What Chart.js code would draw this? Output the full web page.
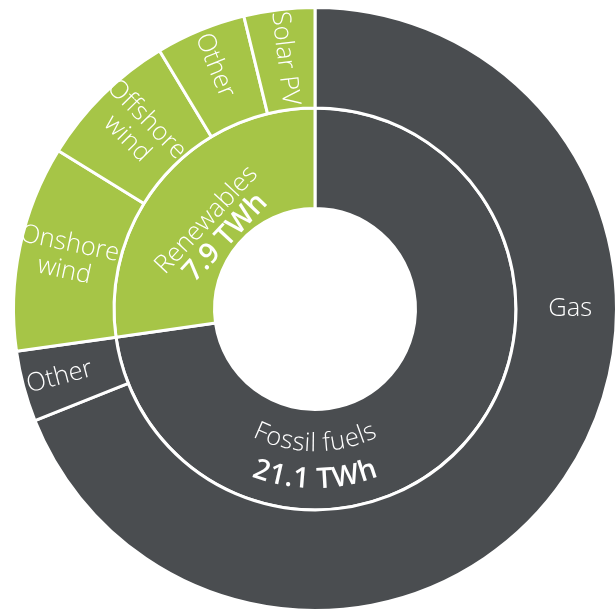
<!DOCTYPE html>
<html>
<head>
<meta charset="utf-8">
<script src="https://cdn.jsdelivr.net/npm/chart.js@4/dist/chart.umd.min.js"></script>
<style>
html,body{margin:0;padding:0;background:#fff;overflow:hidden}
#wrap{width:616px;height:610px;position:relative}
canvas{display:block}
</style>
</head>
<body>
<div id="wrap"><canvas id="c" width="616" height="610"></canvas></div>
<script>
// ---- data ----
const groupLabels = ['Fossil fuels', 'Renewables'];
const groupValues = [21.1, 7.9];
const valueUnit = 'TWh';
const sourceLabels = ['Gas', 'Other', 'Onshore wind', 'Offshore wind', 'Other', 'Solar PV'];
const sourceValues = [20.0, 1.1, 3.2, 2.2, 1.4, 1.1];
const sourceGroup = [0, 0, 1, 1, 1, 1];

// ---- styles ----
const groupColors = ['#4a4d50', '#a6c547'];
const FONT_FAMILY = '"Open Sans", "DejaVu Sans", sans-serif';
const LIGHT_FONT = '300 25.5px ' + FONT_FAMILY;
const BOLD_FONT = '600 28.5px ' + FONT_FAMILY;

// label layout (frac = position across the ring width, angle in deg clockwise from top)
const sourceLabelLayout = [
  {angle: 90, frac: 0.54, mode: 'flat'},
  {frac: 0.63, mode: 'radial'},
  {frac: 0.52, mode: 'radial', wrap: true},
  {frac: 0.52, mode: 'radial', wrap: true},
  {frac: 0.62, mode: 'radial'},
  {frac: 0.51, mode: 'radial'}
];
const groupLabelLayout = [
  {angle: 180, fracs: [0.343, 0.70], mode: 'curved'},
  {angle: 309, frac: 0.268, mode: 'straight', rotate: -47, gap: 26}
];

function degToCanvas(d) { return (d - 90) * Math.PI / 180; }

function drawLines(ctx, lines, fonts, x, y, rot, gap) {
  ctx.save();
  ctx.translate(x, y);
  ctx.rotate(rot);
  const n = lines.length;
  lines.forEach((ln, i) => {
    ctx.font = fonts[i] || fonts[0];
    ctx.fillText(ln, 0, (i - (n - 1) / 2) * gap);
  });
  ctx.restore();
}

function drawCurved(ctx, text, font, cx, cy, r, centerAngle) {
  ctx.font = font;
  const total = ctx.measureText(text).width;
  let a = centerAngle + total / (2 * r);
  for (const ch of text) {
    const w = ctx.measureText(ch).width;
    const am = a - w / (2 * r);
    ctx.save();
    ctx.translate(cx + r * Math.cos(am), cy + r * Math.sin(am));
    ctx.rotate(am - Math.PI / 2);
    ctx.fillText(ch, 0, 0);
    ctx.restore();
    a -= w / r;
  }
}

const ringLabels = {
  id: 'ringLabels',
  afterDatasetsDraw(chart) {
    const ctx = chart.ctx;
    ctx.save();
    ctx.fillStyle = '#ffffff';
    ctx.textAlign = 'center';
    ctx.textBaseline = 'middle';

    // outer ring: sources
    chart.getDatasetMeta(0).data.forEach((arc, i) => {
      const p = arc.getProps(['x', 'y', 'startAngle', 'endAngle', 'innerRadius', 'outerRadius'], true);
      const L = sourceLabelLayout[i];
      const ang = L.angle !== undefined ? degToCanvas(L.angle) : (p.startAngle + p.endAngle) / 2;
      const r = p.innerRadius + L.frac * (p.outerRadius - p.innerRadius);
      const x = p.x + r * Math.cos(ang), y = p.y + r * Math.sin(ang);
      const lines = L.wrap ? sourceLabels[i].split(' ') : [sourceLabels[i]];
      const rot = L.mode === 'radial' ? ang + Math.PI : 0;
      drawLines(ctx, lines, [LIGHT_FONT], x, y, rot, 27.5);
    });

    // inner ring: groups
    chart.getDatasetMeta(1).data.forEach((arc, i) => {
      const p = arc.getProps(['x', 'y', 'startAngle', 'endAngle', 'innerRadius', 'outerRadius'], true);
      const L = groupLabelLayout[i];
      const ang = degToCanvas(L.angle);
      const texts = [groupLabels[i], groupValues[i].toFixed(1) + ' ' + valueUnit];
      const fonts = [LIGHT_FONT, BOLD_FONT];
      const w = p.outerRadius - p.innerRadius;
      if (L.mode === 'curved') {
        texts.forEach((t, k) => {
          drawCurved(ctx, t, fonts[k], p.x, p.y, p.innerRadius + L.fracs[k] * w, ang);
        });
      } else {
        const r = p.innerRadius + L.frac * w;
        drawLines(ctx, texts, fonts, p.x + r * Math.cos(ang), p.y + r * Math.sin(ang),
          L.rotate * Math.PI / 180, L.gap);
      }
    });
    ctx.restore();
  }
};

new Chart(document.getElementById('c'), {
  type: 'doughnut',
  data: {
    labels: sourceLabels,
    datasets: [
      {
        data: sourceValues,
        backgroundColor: sourceGroup.map(g => groupColors[g]),
        borderColor: '#ffffff',
        borderWidth: 3,
        hoverOffset: 0
      },
      {
        data: groupValues,
        backgroundColor: groupColors,
        borderColor: '#ffffff',
        borderWidth: 3,
        hoverOffset: 0
      }
    ]
  },
  options: {
    responsive: false,
    devicePixelRatio: 1,
    animation: false,
    radius: 301.5,
    cutout: '33.33%',
    layout: {padding: {left: 14, top: 8, right: 0, bottom: 0}},
    plugins: {legend: {display: false}, tooltip: {enabled: false}},
    events: []
  },
  plugins: [ringLabels]
});
</script>
</body>
</html>
